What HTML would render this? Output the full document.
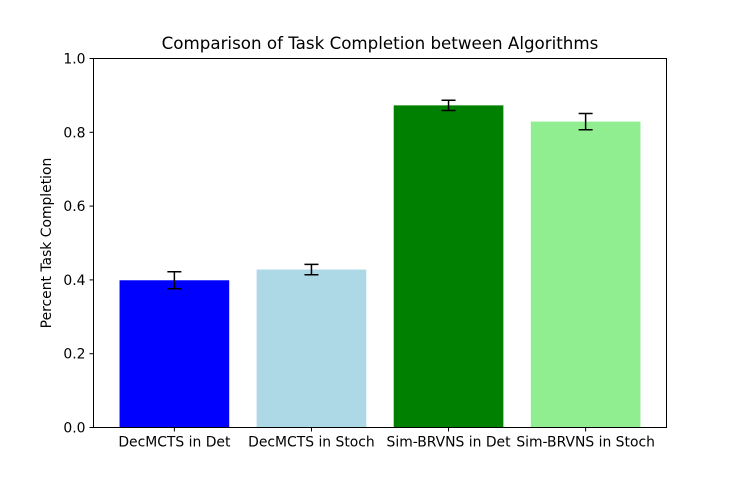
<!DOCTYPE html>
<html><head><meta charset="utf-8"><style>
body{margin:0;background:#fff;font-family:"Liberation Sans","DejaVu Sans",sans-serif}
svg text{font-family:"DejaVu Sans","Liberation Sans",sans-serif;fill:#000}
</style></head><body>
<svg id="chart" width="740" height="480" viewBox="0 0 740 480">
<text x="380" y="49" text-anchor="middle" font-size="16.7">Comparison of Task Completion between Algorithms</text>
<text transform="translate(51,243) rotate(-90)" text-anchor="middle" font-size="13.9">Percent Task Completion</text>
<g id="plot"></g>
<rect x="93.5" y="58.5" width="573" height="369" fill="none" stroke="#000" stroke-width="1"/>
</svg>
<script>
const categories=["DecMCTS in Det","DecMCTS in Stoch","Sim-BRVNS in Det","Sim-BRVNS in Stoch"];
const values=[0.399,0.428,0.873,0.829];
const errors=[0.023,0.014,0.014,0.022];
const colors=["#0000ff","#add8e6","#008000","#90ee90"];
const yTicks=[0,0.2,0.4,0.6,0.8,1.0];
const yTickLabels=["0.0","0.2","0.4","0.6","0.8","1.0"];
const L=93.5,R=666.5,T=58.5,B=427.5;
const xmin=-0.59,xmax=3.59;
const xs=i=>L+(i-xmin)/(xmax-xmin)*(R-L);
const ys=v=>B-v*(B-T);
const ns="http://www.w3.org/2000/svg";
const g=document.getElementById('plot');
function mk(t,a){const e=document.createElementNS(ns,t);for(const k in a)e.setAttribute(k,a[k]);g.appendChild(e);return e;}
const bw=0.8*(R-L)/(xmax-xmin);
categories.forEach((c,i)=>{
 const r=mk('rect',{x:xs(i)-bw/2,y:ys(values[i]),width:bw,height:ys(0)-ys(values[i]),fill:colors[i]});
 
 
 const cx=xs(i),y1=ys(values[i]+errors[i]),y2=ys(values[i]-errors[i]);
 const eb=mk('path',{d:`M${cx},${y1}V${y2}M${cx-7},${y1}H${cx+7}M${cx-7},${y2}H${cx+7}`,stroke:'#000','stroke-width':1.5,fill:'none'});
 
 
 mk('line',{x1:cx,x2:cx,y1:B,y2:B+4,stroke:'#000'});
 const t=mk('text',{x:cx,y:B+19,'text-anchor':'middle','font-size':13.9});
 t.textContent=c;
 
 
});
yTicks.forEach((v,i)=>{
 const y=ys(v);
 mk('line',{x1:L-4,x2:L,y1:y,y2:y,stroke:'#000'});
 const t=mk('text',{x:L-8,y:y+5,'text-anchor':'end','font-size':13.9});
 t.textContent=yTickLabels[i];
 
 
});
</script>
</body></html>
